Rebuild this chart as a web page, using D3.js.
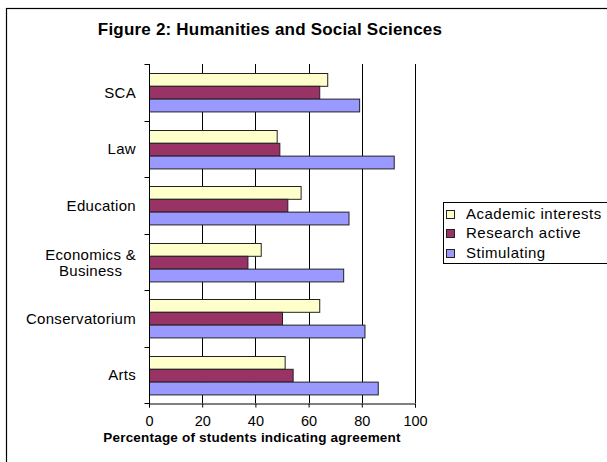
<!DOCTYPE html>
<html>
<head>
<meta charset="utf-8">
<script src="https://cdn.jsdelivr.net/npm/d3@7"></script>
<style>
  body { margin: 0; background: #fff; }
  svg { display: block; font-family: "Liberation Sans", Arial, sans-serif; }
</style>
</head>
<body>
<svg id="chart" width="607" height="462"></svg>
<script>
var categories = ["SCA", "Law", "Education", "Economics & Business", "Conservatorium", "Arts"];
var seriesNames = ["Academic interests", "Research active", "Stimulating"];
var academic = [67, 48, 57, 42, 64, 51];
var research = [64, 49, 52, 37, 50, 54];
var stimulating = [79, 92, 75, 73, 81, 86];
var xTicks = [0, 20, 40, 60, 80, 100];
var colors = ["#FFFFCC", "#993366", "#9999FF"];

var series = [academic, research, stimulating];

var svg = d3.select("#chart");

// outer chart border (right and bottom run off the picture)
svg.append("rect")
    .attr("x", 6.5).attr("y", 8.5)
    .attr("width", 640).attr("height", 500)
    .attr("fill", "#fff").attr("stroke", "#000").attr("stroke-width", 1.2);

var plotLeft = 149, plotRight = 415, plotTop = 64, plotBottom = 403;

var x = d3.scaleLinear().domain([0, 100]).range([plotLeft, plotRight]);
var y0 = d3.scaleBand().domain(categories).range([plotTop, plotBottom])
    .paddingInner(0.32).paddingOuter(0.16);
var y1 = d3.scaleBand().domain(d3.range(3)).range([0, y0.bandwidth()]);

// title
svg.append("text")
    .attr("x", 270).attr("y", 35)
    .attr("text-anchor", "middle")
    .attr("font-size", 17).attr("font-weight", "bold")
    .attr("letter-spacing", 0.2)
    .text("Figure 2: Humanities and Social Sciences");

// gridlines
svg.append("g").selectAll("line")
    .data(xTicks.slice(1))
    .enter().append("line")
    .attr("x1", function(d) { return Math.round(x(d)) + 0.5; })
    .attr("x2", function(d) { return Math.round(x(d)) + 0.5; })
    .attr("y1", plotTop).attr("y2", plotBottom)
    .attr("stroke", "#000").attr("stroke-width", 1);

// bars
var groups = svg.append("g").selectAll("g")
    .data(categories)
    .enter().append("g")
    .attr("transform", function(d) { return "translate(0," + Math.round(y0(d)) + ")"; });

groups.selectAll("rect")
    .data(function(d, i) { return series.map(function(s, j) { return { j: j, v: s[i] }; }); })
    .enter().append("rect")
    .attr("x", x(0) + 0.5)
    .attr("y", function(d) { return y1(d.j) + 0.5; })
    .attr("width", function(d) { return x(d.v) - x(0); })
    .attr("height", y1.bandwidth())
    .attr("fill", function(d) { return colors[d.j]; })
    .attr("stroke", "#222").attr("stroke-width", 1);

// x axis
var xAxis = svg.append("g")
    .attr("transform", "translate(0," + (plotBottom + 0.5) + ")")
    .call(d3.axisBottom(x).tickValues(xTicks).tickSize(4).tickPadding(8));
xAxis.select(".domain").attr("stroke", "#000");
xAxis.selectAll("line").attr("stroke", "#000");
xAxis.selectAll("text").attr("font-size", 14.5).attr("fill", "#000")
    .attr("font-family", "Liberation Sans, Arial, sans-serif");

// y axis
var yAxis = svg.append("g")
    .attr("transform", "translate(" + (plotLeft + 0.5) + ",0)");
yAxis.append("line")
    .attr("x1", 0).attr("x2", 0).attr("y1", plotTop).attr("y2", plotBottom + 4)
    .attr("stroke", "#000");
var catEdges = categories.map(function(c) { return y0(c) - y0.step() * y0.paddingOuter(); });
catEdges.push(plotBottom);
yAxis.selectAll(".tk")
    .data(catEdges)
    .enter().append("line")
    .attr("x1", -5).attr("x2", 0)
    .attr("y1", function(d) { return Math.round(d) + 0.5; })
    .attr("y2", function(d) { return Math.round(d) + 0.5; })
    .attr("stroke", "#000");

// category labels
categories.forEach(function(c) {
    var cy = y0(c) - y0.step() * y0.paddingOuter() + y0.step() / 2;
    if (c === "Economics & Business") {
        var t1 = svg.append("text")
            .attr("x", 136).attr("y", cy - 7).attr("dy", "0.35em")
            .attr("text-anchor", "end").attr("font-size", 15)
            .attr("letter-spacing", 0.3)
            .text("Economics &");
        var w = t1.node().getComputedTextLength();
        svg.append("text")
            .attr("x", 136 - w / 2).attr("y", cy + 9).attr("dy", "0.35em")
            .attr("text-anchor", "middle").attr("font-size", 15)
            .attr("letter-spacing", 0.3)
            .text("Business");
    } else {
        svg.append("text")
            .attr("x", 136).attr("y", cy).attr("dy", "0.35em")
            .attr("text-anchor", "end").attr("font-size", 15)
            .attr("letter-spacing", 0.3)
            .text(c);
    }
});

// x axis title
svg.append("text")
    .attr("x", 252).attr("y", 442)
    .attr("text-anchor", "middle")
    .attr("font-size", 13.5).attr("font-weight", "bold")
    .attr("letter-spacing", 0.2)
    .text("Percentage of students indicating agreement");

// legend
var legend = svg.append("g");
legend.append("rect")
    .attr("x", 443.5).attr("y", 202.5)
    .attr("width", 200).attr("height", 61)
    .attr("fill", "#fff").attr("stroke", "#000");
seriesNames.forEach(function(name, i) {
    var ly = 213.5 + i * 19.7;
    legend.append("rect")
        .attr("x", 446.5).attr("y", Math.round(ly - 4) + 0.5)
        .attr("width", 8).attr("height", 8)
        .attr("fill", colors[i]).attr("stroke", "#222");
    legend.append("text")
        .attr("x", 466).attr("y", ly).attr("dy", "0.35em")
        .attr("font-size", 15).attr("letter-spacing", 0.5)
        .text(name);
});
</script>
</body>
</html>
